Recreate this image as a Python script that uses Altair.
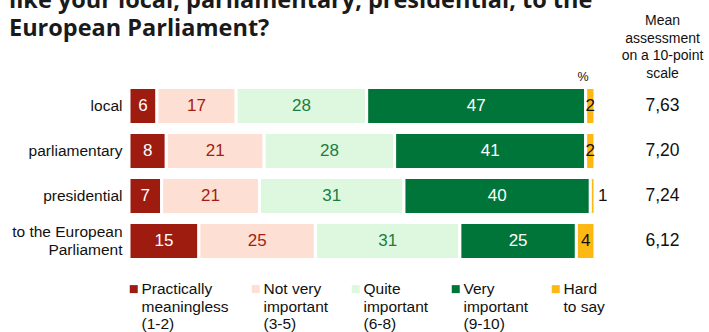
import altair as alt
import pandas as pd

# ---- data ----
elections = ["local", "parliamentary", "presidential", "to the European|Parliament"]
categories = ["Practically|meaningless|(1-2)", "Not very|important|(3-5)",
              "Quite|important|(6-8)", "Very|important|(9-10)", "Hard|to say"]
practically = [6, 8, 7, 15]
not_very = [17, 21, 21, 25]
quite = [28, 28, 31, 31]
very = [47, 41, 40, 25]
hard = [2, 2, 1, 4]
means = [7.63, 7.20, 7.24, 6.12]

title_lines = ["like your local, parliamentary, presidential, to the", "European Parliament?"]
header_lines = ["Mean", "assessment", "on a 10-point", "scale"]

bar_colors = ["#9e1b10", "#fde0d3", "#ddf8df", "#00753a", "#fdb813"]
text_colors = ["#ffffff", "#a51d12", "#1b7d42", "#ffffff", "#111111"]

series = [practically, not_very, quite, very, hard]
rows = []
for ci, (cat, vals) in enumerate(zip(categories, series)):
    for ei, el in enumerate(elections):
        rows.append({"election": el, "cat": cat, "order": ci, "value": vals[ei]})
df = pd.DataFrame(rows)
mean_df = pd.DataFrame({"election": elections, "mean": means})

FONT = "Liberation Sans"

y_enc = alt.Y("election:N", sort=elections,
              scale=alt.Scale(paddingInner=0.178, paddingOuter=0.1),
              axis=alt.Axis(title=None, domain=False, ticks=False, labelPadding=7,
                            labelFontSize=15.5, labelFont=FONT, labelColor="#111",
                            labelOffset={"condition": {"test": "indexof(datum.value, '|') >= 0",
                                                       "value": -9}, "value": 0},
                            labelExpr="split(datum.label, '|')", labelLineHeight=18))

base = alt.Chart(df).transform_stack(
    stack="value", as_=["x0", "x1"], groupby=["election"],
    sort=[alt.SortField("order", order="ascending")]
).transform_calculate(mid="(datum.x0 + datum.x1) / 2")

legend_expr = ("split(length(split(datum.label, '|')) < 3 ? datum.label + '| ' : datum.label, '|')")

bars = base.mark_bar(stroke="white", strokeWidth=3).encode(
    y=y_enc,
    x=alt.X("x0:Q", scale=alt.Scale(domain=[0, 100], nice=False), axis=None),
    x2="x1:Q",
    color=alt.Color("cat:N", sort=categories,
                    scale=alt.Scale(domain=categories, range=bar_colors),
                    legend=alt.Legend(title=None, orient="none", legendX=-3, legendY=198,
                                      direction="horizontal", columns=5, columnPadding=19,
                                      symbolType="square", symbolSize=64, symbolStrokeWidth=0,
                                      labelFont=FONT, labelFontSize=15.5, labelColor="#111",
                                      labelBaseline="middle",
                                      labelOffset=0, labelLimit=200,
                                      labelExpr=legend_expr)),
    order=alt.Order("order:Q"),
)

txt_scale = alt.Scale(domain=categories, range=text_colors)

labels = base.transform_filter("datum.value >= 2").mark_text(
    font=FONT, fontSize=17, baseline="middle", align="center"
).encode(
    y=alt.Y("election:N", sort=elections),
    x=alt.X("mid:Q"),
    text=alt.Text("value:Q"),
    color=alt.Color("cat:N", scale=txt_scale, legend=None),
)

small_labels = base.transform_filter("datum.value < 2").mark_text(
    font=FONT, fontSize=17, baseline="middle", align="left", dx=3
).encode(
    y=alt.Y("election:N", sort=elections),
    x=alt.X("x1:Q"),
    text=alt.Text("value:Q"),
    color=alt.value("#111"),
)

mean_text = alt.Chart(mean_df).transform_calculate(
    lab="replace(format(datum.mean, '.2f'), '.', ',')"
).mark_text(font=FONT, fontSize=17.5, align="center", baseline="middle", color="#111").encode(
    y=alt.Y("election:N", sort=elections),
    x=alt.value(533.5),
    text="lab:N",
)

header = alt.Chart(pd.DataFrame({"t": [0]})).mark_text(
    font=FONT, fontSize=14, align="center", baseline="top", lineHeight=17.5,
    color="#111", text=header_lines
).encode(x=alt.value(533.5), y=alt.value(-69))

pct = alt.Chart(pd.DataFrame({"t": [0]})).mark_text(
    font=FONT, fontSize=12.5, align="center", baseline="middle", color="#111", text="%"
).encode(x=alt.value(454), y=alt.value(-6))

title = alt.Chart(pd.DataFrame({"t": [0]})).mark_text(
    font="Open Sans", fontSize=23.5, fontWeight="bold", align="left", baseline="alphabetic",
    lineHeight=27.7, color="#1a1a1a", text=title_lines
).encode(x=alt.value(-120), y=alt.value(-75))

chart = alt.layer(bars, labels, small_labels, mean_text, header, pct, title).resolve_scale(
    color="independent"
).properties(
    width=466, height=181,
    autosize=alt.AutoSizeParams(type="none"),
    padding={"left": 129, "top": 83, "right": 114, "bottom": 68},
).configure_view(stroke=None)

chart.save("out.html", embed_options={"renderer": "svg", "actions": False})
